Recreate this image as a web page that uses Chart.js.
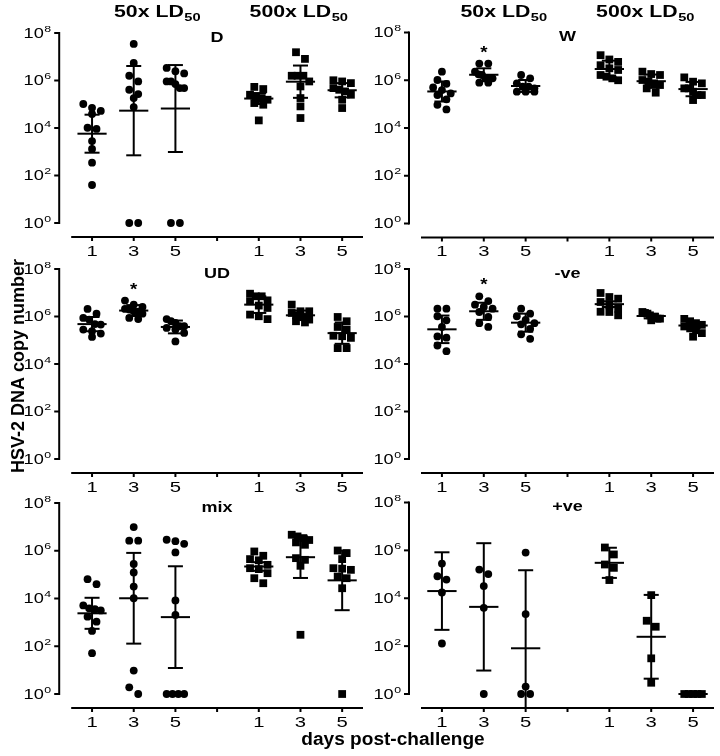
<!DOCTYPE html>
<html>
<head>
<meta charset="utf-8">
<script src="https://cdn.jsdelivr.net/npm/chart.js@4.4.1/dist/chart.umd.min.js"></script>
<style>
html,body{margin:0;padding:0;background:#fff;}
#wrap{position:relative;width:720px;height:756px;overflow:hidden;}
#wrap canvas{position:absolute;left:0;top:0;}
</style>
</head>
<body>
<div id="wrap"></div>
<script>
// ---------------- DATA (log10 HSV-2 DNA copy number per mouse) ----------------
const dayLabels = ['1', '3', '5'];
const doseLabels = ['50x LD', '500x LD'];
const doseSub = '50';
const yTickExponents = [0, 2, 4, 6, 8];
const xTitle = 'days post-challenge';
const yTitle = 'HSV-2 DNA copy number';
const panelNames = ['D', 'W', 'UD', '-ve', 'mix', '+ve'];

const D_50x = [
  [5.01, 4.85, 4.72, 4.59, 4.01, 3.96, 3.45, 3.12, 2.54, 1.60],
  [7.54, 6.74, 6.20, 5.96, 5.61, 5.43, 5.26, 4.88, 0, 0],
  [6.53, 6.39, 6.30, 5.96, 5.96, 5.85, 5.68, 5.68, 0, 0]
];
const D_500x = [
  [5.73, 5.64, 5.40, 5.33, 5.26, 5.19, 5.05, 4.98, 4.32],
  [7.19, 6.91, 6.20, 6.20, 6.20, 5.96, 5.75, 5.26, 4.91, 4.42],
  [6.01, 5.96, 5.89, 5.68, 5.61, 5.54, 5.40, 5.19, 4.84]
];
const D_mean = [3.76, 4.73, 4.82, 5.24, 5.95, 5.59];
const D_sd = [0.80, 1.88, 1.83, 0.23, 0.68, 0.30];

const W_50x = [
  [6.36, 6.01, 5.85, 5.70, 5.59, 5.45, 5.38, 5.20, 4.97, 4.78],
  [6.70, 6.70, 6.36, 6.25, 6.22, 6.08, 6.08, 6.08, 5.90, 5.90],
  [6.22, 6.08, 5.87, 5.73, 5.73, 5.66, 5.52, 5.52, 5.52]
];
const W_500x = [
  [7.05, 6.87, 6.77, 6.63, 6.50, 6.43, 6.22, 6.15, 6.08, 6.00],
  [6.36, 6.26, 6.22, 6.01, 5.94, 5.87, 5.80, 5.66, 5.48],
  [6.12, 5.94, 5.87, 5.66, 5.66, 5.52, 5.38, 5.38, 5.17]
];
const W_mean = [5.53, 6.23, 5.76, 6.47, 5.96, 5.63];
const W_sd = [0.42, 0.27, 0.25, 0.35, 0.28, 0.30];

const UD_50x = [
  [6.32, 6.12, 5.94, 5.87, 5.68, 5.66, 5.45, 5.38, 5.28, 5.14],
  [6.67, 6.50, 6.40, 6.32, 6.29, 6.22, 6.20, 6.12, 5.94, 5.89],
  [5.89, 5.80, 5.73, 5.59, 5.59, 5.52, 5.45, 5.31, 4.95]
];
const UD_500x = [
  [6.96, 6.85, 6.85, 6.68, 6.64, 6.46, 6.36, 6.08, 6.01, 5.89],
  [6.50, 6.22, 6.22, 6.15, 6.05, 6.01, 5.98, 5.87, 5.80, 5.75],
  [5.98, 5.80, 5.56, 5.45, 5.19, 5.17, 5.10, 4.67, 4.67]
];
const UD_mean = [5.68, 6.25, 5.56, 6.50, 6.05, 5.30];
const UD_sd = [0.30, 0.23, 0.27, 0.35, 0.20, 0.45];

const NEG_50x = [
  [6.33, 6.33, 6.01, 5.84, 5.56, 5.16, 5.11, 4.78, 4.54],
  [6.85, 6.65, 6.50, 6.40, 6.33, 6.19, 5.98, 5.72, 5.56],
  [6.33, 6.12, 6.01, 5.86, 5.72, 5.67, 5.48, 5.25, 5.06]
];
const NEG_500x = [
  [6.99, 6.82, 6.75, 6.61, 6.47, 6.33, 6.20, 6.19, 6.05],
  [6.19, 6.15, 6.12, 6.05, 5.98, 5.98, 5.91, 5.91, 5.84],
  [5.90, 5.80, 5.72, 5.65, 5.58, 5.50, 5.42, 5.30, 5.15]
];
const NEG_mean = [5.46, 6.22, 5.74, 6.52, 6.02, 5.62];
const NEG_sd = [0.58, 0.36, 0.38, 0.12, 0.10, 0.10];

const MIX_50x = [
  [4.81, 4.60, 3.71, 3.59, 3.55, 3.50, 3.24, 3.03, 2.64, 1.71],
  [6.99, 6.42, 6.42, 5.45, 5.09, 4.50, 4.01, 0.98, 0.28, 0],
  [6.46, 6.40, 6.29, 5.93, 3.92, 3.31, 0, 0, 0, 0]
];
const MIX_500x = [
  [5.97, 5.79, 5.65, 5.60, 5.41, 5.27, 5.23, 5.06, 4.85, 4.64],
  [6.67, 6.60, 6.53, 6.45, 6.35, 6.25, 5.69, 5.62, 5.37, 2.48],
  [6.01, 5.90, 5.65, 5.27, 5.25, 5.20, 4.92, 4.85, 4.43, 0]
];
const MIX_mean = [3.38, 4.01, 3.22, 5.34, 5.73, 4.76];
const MIX_sd = [0.65, 1.90, 2.13, 0.18, 0.87, 1.25];

const POS_50x = [
  [5.45, 4.92, 4.78, 4.24, 2.11],
  [5.20, 5.01, 4.51, 3.60, 0],
  [5.91, 3.34, 0.31, 0, 0]
];
const POS_500x = [
  [6.12, 5.83, 5.41, 5.27, 4.76],
  [4.13, 3.06, 2.81, 1.49, 0.47],
  [0, 0, 0, 0, 0]
];
const POS_mean = [4.30, 3.64, 1.91, 5.48, 2.39, 0];
const POS_sd = [1.62, 2.66, 3.26, 0.63, 1.75, 0];

// groups marked with * (index into the 6 groups: 50x d1,d3,d5, 500x d1,d3,d5)
const starredGroups = { W: [1], UD: [1], '-ve': [1] };

// ---------------- LAYOUT / STYLE ----------------
const FONT = '"Liberation Sans", Arial, Helvetica, sans-serif';
const GROUP_POS = [0, 1, 2, 4, 5, 6];      // category slots (slot 3 is the gap)
const CAP_HALF = 0.18, MEAN_HALF = 0.35;   // in category units
const SWARM_STEP = 0.215, SWARM_MAX_SPAN = 0.42, SWARM_ROW = 0.3;

const panelBoxes = [
  { left: 71.2, right: 363, top: 33, bottom: 223 },
  { left: 421, right: 714, top: 32.5, bottom: 223.5 },
  { left: 71.2, right: 363, top: 269, bottom: 459 },
  { left: 421, right: 714, top: 269, bottom: 459 },
  { left: 71.2, right: 363, top: 503, bottom: 694 },
  { left: 421, right: 714, top: 502.5, bottom: 694 }
];

const panelData = [
  { s50: D_50x, s500: D_500x, mean: D_mean, sd: D_sd },
  { s50: W_50x, s500: W_500x, mean: W_mean, sd: W_sd },
  { s50: UD_50x, s500: UD_500x, mean: UD_mean, sd: UD_sd },
  { s50: NEG_50x, s500: NEG_500x, mean: NEG_mean, sd: NEG_sd },
  { s50: MIX_50x, s500: MIX_500x, mean: MIX_mean, sd: MIX_sd },
  { s50: POS_50x, s500: POS_500x, mean: POS_mean, sd: POS_sd }
];

// Prism-like column scatter: bin points into rows, spread each row horizontally
function swarm(values, center) {
  const items = values.map(v => ({ v })).sort((a, b) => b.v - a.v);
  const rows = [];
  items.forEach(it => {
    const r = rows[rows.length - 1];
    if (r && r[0].v - it.v <= SWARM_ROW) r.push(it); else rows.push([it]);
  });
  const out = [];
  rows.forEach(r => {
    const n = r.length;
    const step = n > 1 ? Math.min(SWARM_STEP, SWARM_MAX_SPAN / (n - 1)) : 0;
    r.forEach((it, k) => out.push({ x: center + (k - (n - 1) / 2) * step, y: Math.pow(10, it.v) }));
  });
  return out;
}

function sText(ctx, text, x, y, font, sx, align, baseline) {
  ctx.save();
  ctx.font = font;
  ctx.textAlign = align || 'left';
  ctx.textBaseline = baseline || 'alphabetic';
  ctx.translate(x, y);
  ctx.scale(sx, 1);
  ctx.fillText(text, 0, 0);
  ctx.restore();
}
function textW(ctx, text, font, sx) {
  ctx.save(); ctx.font = font; const w = ctx.measureText(text).width * sx; ctx.restore(); return w;
}

const prismPlugin = {
  id: 'prism',
  afterDatasetsDraw(chart, args, opts) {
    const ctx = chart.ctx, xs = chart.scales.x, ys = chart.scales.y, ca = chart.chartArea;
    const axisY = ca.bottom + 14;
    ctx.save();
    ctx.strokeStyle = '#000';
    ctx.lineWidth = 2;
    const seg = (x1, y1, x2, y2) => { ctx.beginPath(); ctx.moveTo(x1, y1); ctx.lineTo(x2, y2); ctx.stroke(); };
    opts.mean.forEach((m, g) => {
      const pos = GROUP_POS[g];
      const cx = xs.getPixelForValue(pos);
      const capW = xs.getPixelForValue(pos + CAP_HALF) - cx;
      const meanW = xs.getPixelForValue(pos + MEAN_HALF) - cx;
      const yM = ys.getPixelForValue(Math.pow(10, m));
      const s = opts.sd[g];
      if (s > 0) {
        const yHi = ys.getPixelForValue(Math.pow(10, m + s));
        let yLo = ys.getPixelForValue(Math.pow(10, m - s));
        const clamped = yLo > axisY;
        if (clamped) yLo = axisY;
        seg(cx, yHi, cx, yLo);
        seg(cx - capW, yHi, cx + capW, yHi);
        if (!clamped) seg(cx - capW, yLo, cx + capW, yLo);
      }
      seg(cx - meanW, yM, cx + meanW, yM);
    });
    ctx.restore();
  },
  afterDraw(chart, args, opts) {
    const ctx = chart.ctx, xs = chart.scales.x, ys = chart.scales.y, ca = chart.chartArea;
    const axisY = ca.bottom + 14;
    const axisX = ca.left - 12;
    ctx.save();
    ctx.strokeStyle = '#000';
    ctx.fillStyle = '#000';
    ctx.lineWidth = 2;
    ctx.lineCap = 'square';
    // y axis
    const yTop = ys.getPixelForValue(Math.pow(10, 8));
    const yBot = ys.getPixelForValue(1);
    ctx.beginPath(); ctx.moveTo(axisX, yTop); ctx.lineTo(axisX, yBot); ctx.stroke();
    ctx.lineCap = 'butt';
    const fMain = '14px ' + FONT, fSup = '9.5px ' + FONT;
    yTickExponents.forEach(e => {
      const y = ys.getPixelForValue(Math.pow(10, e));
      ctx.beginPath(); ctx.moveTo(axisX - 5, y); ctx.lineTo(axisX, y); ctx.stroke();
      const supTxt = String(e);
      const wSup = textW(ctx, supTxt, fSup, 1.3);
      const supX = axisX - 8 - wSup;
      sText(ctx, supTxt, supX, y - 1.5, fSup, 1.3, 'left');
      sText(ctx, '10', supX - 0.5, y + 4.6, fMain, 1.3, 'right');
    });
    // x axis
    ctx.beginPath(); ctx.moveTo(ca.left, axisY); ctx.lineTo(ca.right, axisY); ctx.stroke();
    for (let p = 0; p <= 6; p++) {
      const x = xs.getPixelForValue(p);
      ctx.beginPath(); ctx.moveTo(x, axisY); ctx.lineTo(x, axisY + 4); ctx.stroke();
    }
    GROUP_POS.forEach((p, g) => {
      const x = xs.getPixelForValue(p);
      sText(ctx, dayLabels[g % 3], x, axisY + 18.5, '15px ' + FONT, 1.35, 'center');
    });
    // panel label
    sText(ctx, opts.name, xs.getPixelForValue(3), ca.top + 8.8, 'bold 15px ' + FONT, 1.2, 'center');
    // stars
    (opts.stars || []).forEach(g => {
      const vals = g < 3 ? opts.s50[g] : opts.s500[g - 3];
      const top = ys.getPixelForValue(Math.pow(10, Math.max(...vals)));
      sText(ctx, '*', xs.getPixelForValue(GROUP_POS[g]), top - 6, 'bold 17px ' + FONT, 1.1, 'center');
    });
    ctx.restore();
  }
};

const globalTextPlugin = {
  id: 'globalText',
  afterDraw(chart) {
    const ctx = chart.ctx;
    ctx.save();
    ctx.fillStyle = '#000';
    const fH = 'bold 16px ' + FONT, fS = 'bold 11px ' + FONT, sx = 1.33;
    const centers = [[157, 298.5], [503.5, 645]];
    centers.forEach(pair => pair.forEach((c, i) => {
      const wm = textW(ctx, doseLabels[i], fH, sx);
      const ws = textW(ctx, doseSub, fS, sx);
      const x0 = c - (wm + ws) / 2;
      sText(ctx, doseLabels[i], x0, 17, fH, sx, 'left');
      sText(ctx, doseSub, x0 + wm + 0.5, 21, fS, sx, 'left');
    }));
    // y title
    ctx.save();
    ctx.font = 'bold 18px ' + FONT;
    ctx.textAlign = 'center';
    ctx.textBaseline = 'alphabetic';
    ctx.translate(24, 366);
    ctx.rotate(-Math.PI / 2);
    ctx.fillText(yTitle, 0, 0);
    ctx.restore();
    // x title
    sText(ctx, xTitle, 393, 745, 'bold 18px ' + FONT, 1.06, 'center');
    ctx.restore();
  }
};

const wrap = document.getElementById('wrap');
panelData.forEach((pd, i) => {
  const cv = document.createElement('canvas');
  cv.width = 720; cv.height = 756;
  cv.style.width = '720px'; cv.style.height = '756px';
  wrap.appendChild(cv);
  const b = panelBoxes[i];
  const pts50 = [], pts500 = [];
  pd.s50.forEach((vals, d) => pts50.push(...swarm(vals, GROUP_POS[d])));
  pd.s500.forEach((vals, d) => pts500.push(...swarm(vals, GROUP_POS[d + 3])));
  const name = panelNames[i];
  new Chart(cv, {
    type: 'scatter',
    data: {
      datasets: [
        { label: doseLabels[0] + doseSub, data: pts50, pointStyle: 'circle', pointRadius: 3.9,
          backgroundColor: '#000', borderColor: '#000', borderWidth: 0, clip: false },
        { label: doseLabels[1] + doseSub, data: pts500, pointStyle: 'rect', pointRadius: 5.5,
          backgroundColor: '#000', borderColor: '#000', borderWidth: 0, clip: false }
      ]
    },
    options: {
      responsive: false,
      animation: false,
      devicePixelRatio: 1,
      events: [],
      layout: { padding: { left: b.left, right: 720 - b.right, top: b.top, bottom: 756 - b.bottom } },
      plugins: {
        legend: { display: false },
        tooltip: { enabled: false },
        prism: { name: name, mean: pd.mean, sd: pd.sd, s50: pd.s50, s500: pd.s500, stars: starredGroups[name] || [] }
      },
      scales: {
        x: { type: 'linear', min: -0.5, max: 6.5, display: false },
        y: { type: 'logarithmic', min: 1, max: 1e8, display: false }
      }
    },
    plugins: i === 0 ? [prismPlugin, globalTextPlugin] : [prismPlugin]
  });
});
</script>
</body>
</html>
